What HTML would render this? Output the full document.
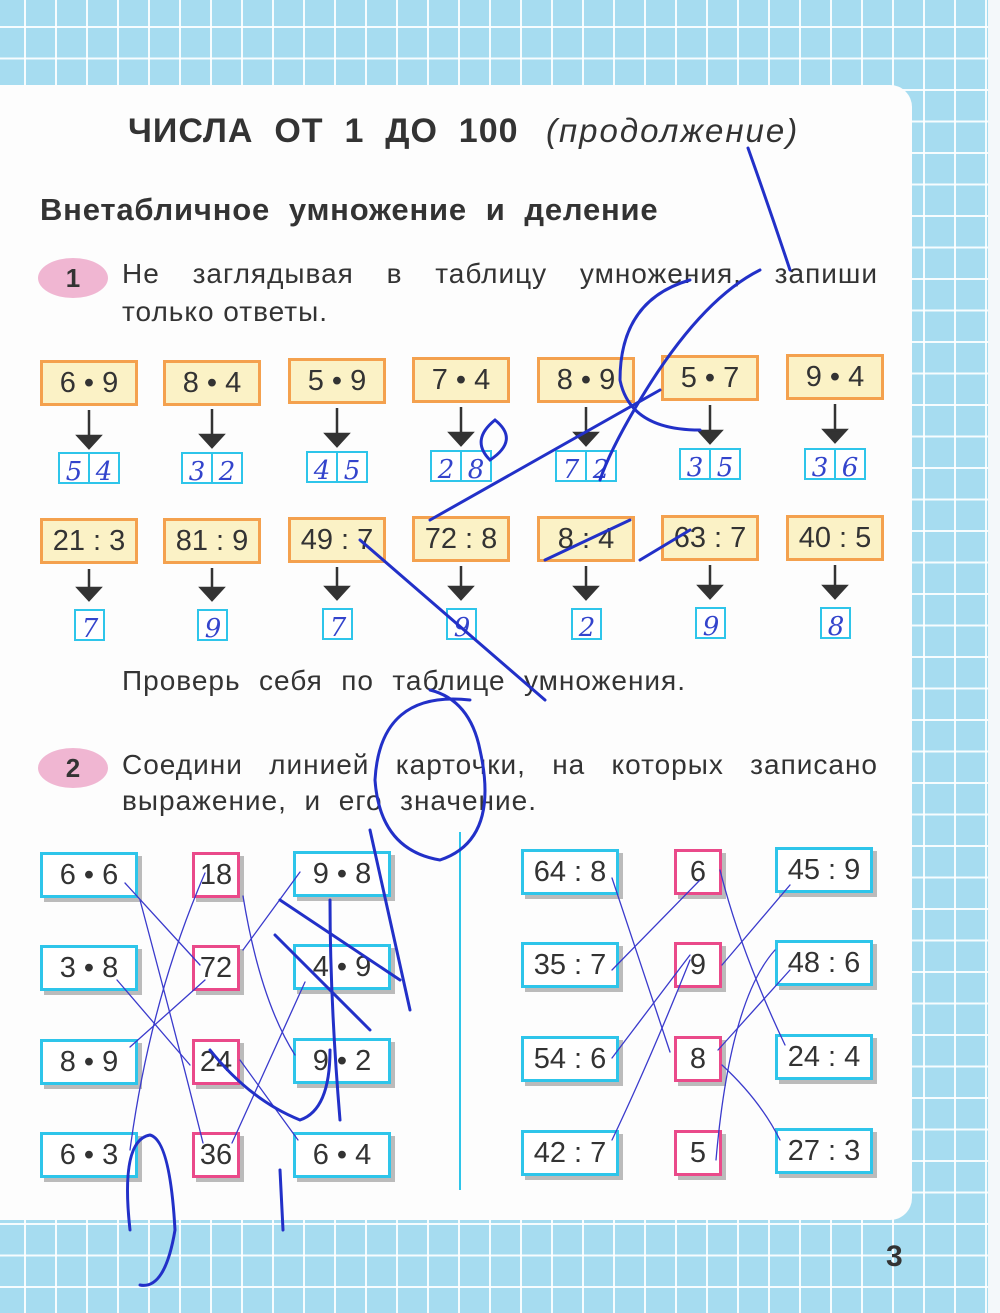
<!DOCTYPE html>
<html><head><meta charset="utf-8"><style>
body{margin:0;width:1000px;height:1313px;position:relative;overflow:hidden;font-family:"Liberation Sans","DejaVu Sans",sans-serif;
background-color:#a6dcf0;
background-image:linear-gradient(90deg,rgba(255,255,255,.9) 2px,transparent 2px),linear-gradient(0deg,rgba(255,255,255,.9) 2px,transparent 2px);
background-size:31px 31.5px;background-position:24px 28px;}
.page{position:absolute;left:0;top:85px;width:912px;height:1135px;background:#fdfdfd;border-radius:0 22px 22px 0;}
.edge{position:absolute;left:988px;top:0;width:12px;height:1313px;background:#f4f8fa;}
.t{position:absolute;color:#333;white-space:nowrap;}
.j{position:absolute;color:#333;white-space:nowrap;text-align:justify;text-align-last:justify;font-size:28px;letter-spacing:1px;}
.ob{position:absolute;width:92px;height:40px;background:#fbf2c6;border:3px solid #f4a14e;font-size:29px;text-align:center;line-height:40px;color:#333;}
.bb,.pb{position:absolute;height:40px;background:#fff;font-size:29px;text-align:center;line-height:40px;color:#333;box-shadow:4px 4px 0 #bbb;}
.bb{width:92px;border:3px solid #2ec5ea;}
.pb{width:42px;border:3px solid #ea4a8a;}
.num{position:absolute;width:70px;height:40px;border-radius:50%;background:#f0b6d2;font-weight:bold;font-size:26px;text-align:center;line-height:40px;color:#333;}
</style></head><body>
<div class="edge"></div>
<div class="page"></div>
<div class="t" style="left:128px;top:112px;font-size:34px;font-weight:bold;letter-spacing:1px;">ЧИСЛА&nbsp; ОТ&nbsp; 1&nbsp; ДО&nbsp; 100</div>
<div class="t" style="left:546px;top:112px;font-size:33px;font-style:italic;letter-spacing:2px;">(продолжение)</div>
<div class="t" style="left:40px;top:192px;font-size:31px;font-weight:bold;letter-spacing:.8px;">Внетабличное&nbsp; умножение&nbsp; и&nbsp; деление</div>
<div class="num" style="left:38px;top:258px;">1</div>
<div class="j" style="left:122px;top:258px;width:756px;">Не заглядывая в таблицу умножения, запиши</div>
<div class="t" style="left:122px;top:296px;font-size:28px;letter-spacing:1px;">только ответы.</div>
<div class="j" style="left:122px;top:665px;width:564px;">Проверь себя по таблице умножения.</div>
<div class="num" style="left:38px;top:748px;">2</div>
<div class="j" style="left:122px;top:749px;width:756px;">Соедини линией карточки, на которых записано</div>
<div class="j" style="left:122px;top:785px;width:415px;">выражение, и его значение.</div>

<div class="ob" style="left:40px;top:360px;">6 • 9</div>
<div class="ob" style="left:163px;top:360px;">8 • 4</div>
<div class="ob" style="left:288px;top:358px;">5 • 9</div>
<div class="ob" style="left:412px;top:357px;">7 • 4</div>
<div class="ob" style="left:537px;top:357px;">8 • 9</div>
<div class="ob" style="left:661px;top:355px;">5 • 7</div>
<div class="ob" style="left:786px;top:354px;">9 • 4</div>
<div class="ob" style="left:40px;top:518px;">21 : 3</div>
<div class="ob" style="left:163px;top:518px;">81 : 9</div>
<div class="ob" style="left:288px;top:517px;">49 : 7</div>
<div class="ob" style="left:412px;top:516px;">72 : 8</div>
<div class="ob" style="left:537px;top:516px;">8 : 4</div>
<div class="ob" style="left:661px;top:515px;">63 : 7</div>
<div class="ob" style="left:786px;top:515px;">40 : 5</div>

<svg style="position:absolute;left:0;top:0" width="1000" height="1313">
<g fill="#333" stroke="#333" stroke-width="2.5">
<line x1="89" y1="410" x2="89" y2="438"/><polygon points="78,436 100,436 89,448"/>
<line x1="212" y1="409" x2="212" y2="437"/><polygon points="201,435 223,435 212,447"/>
<line x1="337" y1="408" x2="337" y2="436"/><polygon points="326,434 348,434 337,446"/>
<line x1="461" y1="407" x2="461" y2="435"/><polygon points="450,433 472,433 461,445"/>
<line x1="586" y1="407" x2="586" y2="435"/><polygon points="575,433 597,433 586,445"/>
<line x1="710" y1="405" x2="710" y2="433"/><polygon points="699,431 721,431 710,443"/>
<line x1="835" y1="404" x2="835" y2="432"/><polygon points="824,430 846,430 835,442"/>
<line x1="89" y1="569" x2="89" y2="590"/><polygon points="78,588 100,588 89,600"/>
<line x1="212" y1="568" x2="212" y2="590"/><polygon points="201,588 223,588 212,600"/>
<line x1="337" y1="567" x2="337" y2="589"/><polygon points="326,587 348,587 337,599"/>
<line x1="461" y1="566" x2="461" y2="589"/><polygon points="450,587 472,587 461,599"/>
<line x1="586" y1="566" x2="586" y2="589"/><polygon points="575,587 597,587 586,599"/>
<line x1="710" y1="565" x2="710" y2="588"/><polygon points="699,586 721,586 710,598"/>
<line x1="835" y1="565" x2="835" y2="588"/><polygon points="824,586 846,586 835,598"/>
</g>
<g fill="#fff" stroke="#2ec5ea" stroke-width="2">
<rect x="59" y="453" width="60" height="30"/><line x1="89" y1="453" x2="89" y2="483"/>
<rect x="182" y="453" width="60" height="30"/><line x1="212" y1="453" x2="212" y2="483"/>
<rect x="307" y="452" width="60" height="30"/><line x1="337" y1="452" x2="337" y2="482"/>
<rect x="431" y="451" width="60" height="30"/><line x1="461" y1="451" x2="461" y2="481"/>
<rect x="556" y="451" width="60" height="30"/><line x1="586" y1="451" x2="586" y2="481"/>
<rect x="680" y="449" width="60" height="30"/><line x1="710" y1="449" x2="710" y2="479"/>
<rect x="805" y="449" width="60" height="30"/><line x1="835" y1="449" x2="835" y2="479"/>
<rect x="75" y="610" width="29" height="30"/><rect x="198" y="610" width="29" height="30"/>
<rect x="323" y="609" width="29" height="30"/><rect x="447" y="609" width="29" height="30"/>
<rect x="572" y="609" width="29" height="30"/><rect x="696" y="608" width="29" height="30"/>
<rect x="821" y="608" width="29" height="30"/>
</g>
<line x1="460" y1="832" x2="460" y2="1190" stroke="#2ec5ea" stroke-width="2"/>
<g font-family="DejaVu Serif,serif" font-style="italic" fill="#3344cc" font-size="26" text-anchor="middle">
<text x="74" y="480">5</text><text x="104" y="480">4</text>
<text x="197" y="480">3</text><text x="227" y="480">2</text>
<text x="322" y="479">4</text><text x="352" y="479">5</text>
<text x="446" y="478">2</text><text x="476" y="478">8</text>
<text x="571" y="478">7</text><text x="601" y="478">2</text>
<text x="695" y="476">3</text><text x="725" y="476">5</text>
<text x="820" y="476">3</text><text x="850" y="476">6</text>
<text x="90" y="637">7</text><text x="213" y="637">9</text><text x="338" y="636">7</text>
<text x="462" y="636">9</text><text x="587" y="636">2</text><text x="711" y="635">9</text><text x="836" y="635">8</text>
</g>
</svg>

<div class="bb" style="left:40px;top:852px;">6 • 6</div>
<div class="bb" style="left:40px;top:945px;">3 • 8</div>
<div class="bb" style="left:40px;top:1039px;">8 • 9</div>
<div class="bb" style="left:40px;top:1132px;">6 • 3</div>
<div class="pb" style="left:192px;top:852px;">18</div>
<div class="pb" style="left:192px;top:945px;">72</div>
<div class="pb" style="left:192px;top:1039px;">24</div>
<div class="pb" style="left:192px;top:1132px;">36</div>
<div class="bb" style="left:293px;top:851px;">9 • 8</div>
<div class="bb" style="left:293px;top:944px;">4 • 9</div>
<div class="bb" style="left:293px;top:1038px;">9 • 2</div>
<div class="bb" style="left:293px;top:1132px;">6 • 4</div>
<div class="bb" style="left:521px;top:849px;">64 : 8</div>
<div class="bb" style="left:521px;top:942px;">35 : 7</div>
<div class="bb" style="left:521px;top:1036px;">54 : 6</div>
<div class="bb" style="left:521px;top:1130px;">42 : 7</div>
<div class="pb" style="left:674px;top:849px;">6</div>
<div class="pb" style="left:674px;top:942px;">9</div>
<div class="pb" style="left:674px;top:1036px;">8</div>
<div class="pb" style="left:674px;top:1130px;">5</div>
<div class="bb" style="left:775px;top:847px;">45 : 9</div>
<div class="bb" style="left:775px;top:940px;">48 : 6</div>
<div class="bb" style="left:775px;top:1034px;">24 : 4</div>
<div class="bb" style="left:775px;top:1128px;">27 : 3</div>
<div class="t" style="left:886px;top:1240px;font-size:30px;font-weight:bold;">3</div>

<svg style="position:absolute;left:0;top:0" width="1000" height="1313" fill="none" stroke-linecap="round">
<g stroke="#3a3acc" stroke-width="1.3">
<path d="M125,883 L200,965"/><path d="M140,900 Q180,1050 203,1143"/>
<path d="M117,980 L190,1065"/><path d="M130,1047 L205,980"/>
<path d="M205,873 Q150,1000 130,1150"/><path d="M243,896 Q260,1000 295,1055"/>
<path d="M243,950 L300,872"/><path d="M232,1143 L305,982"/>
<path d="M240,1060 L298,1140"/>
<path d="M612,878 L670,1052"/><path d="M612,970 L700,880"/><path d="M612,1058 L690,955"/>
<path d="M612,1140 Q650,1060 690,960"/><path d="M720,870 Q740,950 785,1045"/>
<path d="M722,965 L790,885"/><path d="M718,1050 L790,970"/><path d="M716,1160 Q730,1000 775,950"/>
<path d="M722,1065 Q760,1100 780,1140"/>
</g>
<g stroke="#2230c8" stroke-width="3">
<path d="M748,148 Q770,210 790,270"/>
<path d="M760,270 Q700,300 640,400 Q610,450 600,480"/>
<path d="M690,280 Q620,300 620,380 Q630,430 700,430"/>
<path d="M495,420 Q470,440 490,460 Q520,440 495,420"/>
<path d="M360,540 L545,700"/>
<path d="M430,520 L660,390"/>
<path d="M545,560 L630,520"/>
<path d="M470,700 Q380,690 375,780 Q380,850 440,860 Q500,840 480,750 Q470,700 430,690"/>
<path d="M370,830 L410,1010"/><path d="M280,900 L400,980"/><path d="M275,935 L370,1030"/>
<path d="M330,900 Q330,1000 340,1120"/>
<path d="M210,1050 Q250,1100 300,1120 Q330,1110 330,1050"/>
<path d="M130,1230 Q120,1140 150,1135 Q170,1140 175,1230 Q165,1290 140,1285"/>
<path d="M280,1170 L283,1230"/>
<path d="M690,530 L640,560"/>
</g>
</svg>
</body></html>
